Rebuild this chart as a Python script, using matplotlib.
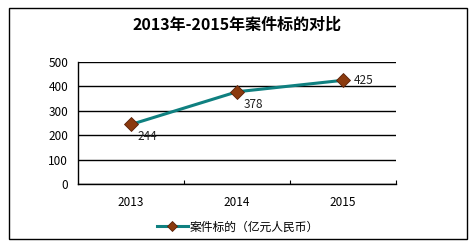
import matplotlib.pyplot as plt
from matplotlib.patches import Rectangle

plt.rcParams['font.family'] = ['Noto Sans CJK SC', 'DejaVu Sans']

years = ["2013", "2014", "2015"]
values = [244, 378, 425]
yticks = [0, 100, 200, 300, 400, 500]
title = "2013年-2015年案件标的对比"
series_name = "案件标的（亿元人民币）"

fig = plt.figure(figsize=(4.74, 2.48), dpi=100)
fig.patches.append(Rectangle((9/474, 1-239/248), 458/474, 231/248, transform=fig.transFigure,
                             fill=False, edgecolor='black', linewidth=1))

ax = fig.add_axes([78/474, 1-184/248, 318/474, 122/248])
x = list(range(len(years)))
ax.plot(x, values, color='#0f8080', linewidth=2.2, marker='D', markersize=7,
        markerfacecolor='#8b3a0e', markeredgecolor='#5a2008', markeredgewidth=0.6,
        label=series_name, zorder=3)

offsets = [(5, -9), (5, -9), (8, 0)]
for xi, v, off in zip(x, values, offsets):
    ax.annotate(str(v), (xi, v), textcoords='offset points', xytext=off,
                ha='left', va='center', fontsize=8.5, color='#222222')

ax.set_xlim(-0.5, 2.5)
ax.set_ylim(0, 500)
ax.set_xticks(x)
ax.set_xticklabels(years)
ax.set_xticks([0.5, 1.5, 2.5], minor=True)
ax.set_yticks(yticks)
ax.tick_params(axis='both', length=0, labelsize=8.5, pad=7)
ax.tick_params(axis='x', pad=9)
ax.tick_params(axis='x', which='minor', length=3, direction='in', width=0.8)
ax.grid(axis='y', color='black', linewidth=1)
ax.set_axisbelow(True)
for s in ['top', 'right']:
    ax.spines[s].set_visible(False)
ax.spines['left'].set_linewidth(1)
ax.spines['bottom'].set_linewidth(1)

fig.text(0.5, 1-25/248, title, ha='center', va='center', fontsize=11.5, fontweight='bold')

fig.legend(loc='center', bbox_to_anchor=(238/474, 1-227/248), frameon=False,
           fontsize=8.5, handlelength=2.6, handletextpad=0.2, markerscale=0.7)

fig.savefig("out.png", dpi=100)
